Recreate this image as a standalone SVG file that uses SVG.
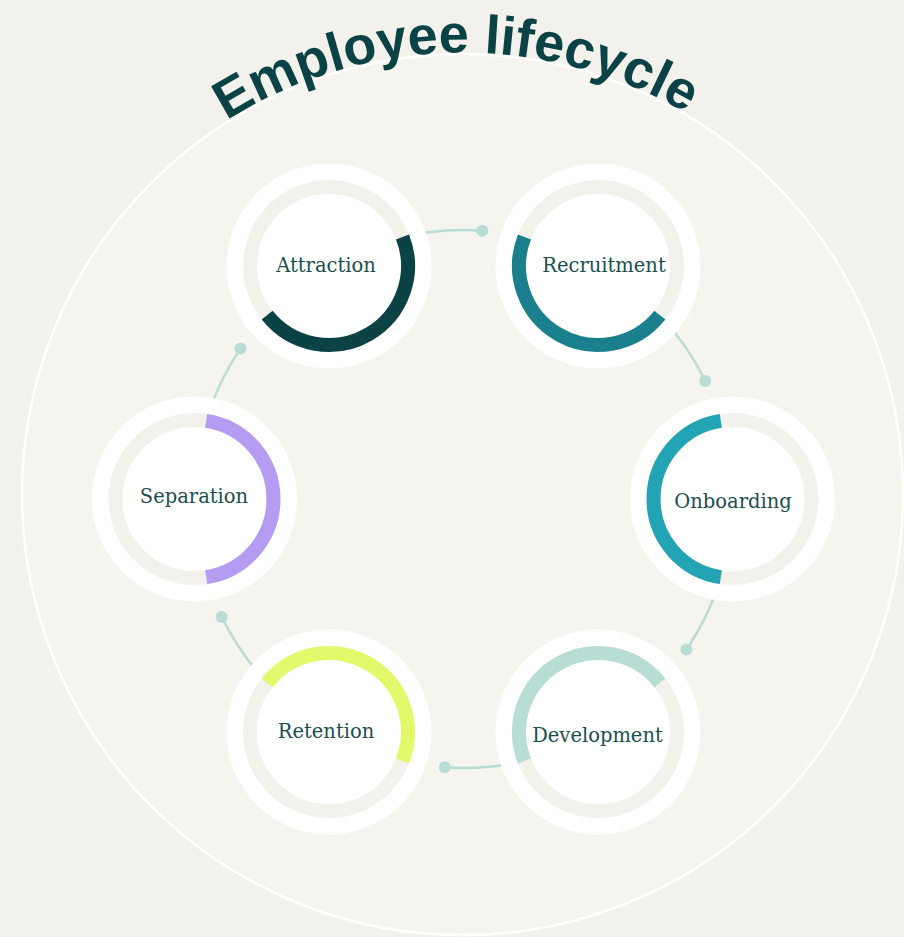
<svg xmlns="http://www.w3.org/2000/svg" width="904" height="937" viewBox="0 0 904 937">
  <defs>
    <style>
      .disc { fill: #ffffff; }
      .track { fill: none; stroke: #f3f1ec; stroke-width: 14; }
      .progress { fill: none; stroke-width: 14; stroke-linecap: butt; }
      .label { font-family: "DejaVu Serif", "Liberation Serif", serif; font-size: 19.5px; fill: #1b4e4f; text-anchor: middle; }
      .link { fill: none; stroke: #b8ddd4; stroke-width: 2.5; }
      .dot { fill: #b8ddd4; }
      .title { font-family: "Liberation Sans", Arial, sans-serif; font-weight: 700; font-size: 54px; fill: #0b4245; }
    </style>
    <!-- baseline for the curved heading, following the outer ring -->
    <path id="titleArc" d="M 20.5 494.5 A 442 442 0 0 1 904.5 494.5"/>
  </defs>

  <!-- page and outer ring -->
  <rect width="904" height="937" fill="#f3f1eb"/>
  <circle cx="462.5" cy="494.5" r="440.5" fill="#f5f4ef" stroke="#ffffff" stroke-width="2.5"/>

  <!-- heading -->
  <text class="title"><textPath href="#titleArc" startOffset="49.5%" text-anchor="middle">Employee lifecycle</textPath></text>

  <!-- connectors between stages -->
  <g id="connectors">
    <path class="link" d="M 393.88 239.17 A 269 269 0 0 1 482.26 230.66"/>
    <circle class="dot" cx="482.26" cy="230.66" r="6"/>
    <path class="link" d="M 653.71 308.79 A 269 269 0 0 1 705.28 381.08"/>
    <circle class="dot" cx="705.28" cy="381.08" r="6"/>
    <path class="link" d="M 723.33 568.62 A 269 269 0 0 1 686.51 649.42"/>
    <circle class="dot" cx="686.51" cy="649.42" r="6"/>
    <path class="link" d="M 533.12 758.83 A 269 269 0 0 1 444.74 767.34"/>
    <circle class="dot" cx="444.74" cy="767.34" r="6"/>
    <path class="link" d="M 273.29 689.21 A 269 269 0 0 1 221.72 616.92"/>
    <circle class="dot" cx="221.72" cy="616.92" r="6"/>
    <path class="link" d="M 203.67 429.38 A 269 269 0 0 1 240.49 348.58"/>
    <circle class="dot" cx="240.49" cy="348.58" r="6"/>
  </g>

  <!-- stages -->
  <g id="attraction">
    <circle class="disc" cx="329" cy="266" r="102.5"/>
    <circle class="track" cx="329" cy="266" r="79"/>
    <path class="progress" stroke="#0b4245" d="M 402.50 237.05 A 79 79 0 0 1 267.17 315.18"/>
    <text class="label" x="326" y="272">Attraction</text>
  </g>

  <g id="recruitment">
    <circle class="disc" cx="598" cy="266" r="102.5"/>
    <circle class="track" cx="598" cy="266" r="79"/>
    <path class="progress" stroke="#1b808d" d="M 659.83 315.18 A 79 79 0 0 1 524.50 237.05"/>
    <text class="label" x="604" y="272">Recruitment</text>
  </g>

  <g id="onboarding">
    <circle class="disc" cx="732.5" cy="499" r="102.5"/>
    <circle class="track" cx="732.5" cy="499" r="79"/>
    <path class="progress" stroke="#22a4b4" d="M 720.82 577.13 A 79 79 0 0 1 720.82 420.87"/>
    <text class="label" x="733" y="508">Onboarding</text>
  </g>

  <g id="development">
    <circle class="disc" cx="598" cy="732" r="102.5"/>
    <circle class="track" cx="598" cy="732" r="79"/>
    <path class="progress" stroke="#b8ddd4" d="M 524.50 760.95 A 79 79 0 0 1 659.83 682.82"/>
    <text class="label" x="597.5" y="742">Development</text>
  </g>

  <g id="retention">
    <circle class="disc" cx="329" cy="732" r="102.5"/>
    <circle class="track" cx="329" cy="732" r="79"/>
    <path class="progress" stroke="#e3f86a" d="M 267.17 682.82 A 79 79 0 0 1 402.50 760.95"/>
    <text class="label" x="326" y="738">Retention</text>
  </g>

  <g id="separation">
    <circle class="disc" cx="194.5" cy="499" r="102.5"/>
    <circle class="track" cx="194.5" cy="499" r="79"/>
    <path class="progress" stroke="#b49cf3" d="M 206.18 420.87 A 79 79 0 0 1 206.18 577.13"/>
    <text class="label" x="194" y="503">Separation</text>
  </g>
</svg>
